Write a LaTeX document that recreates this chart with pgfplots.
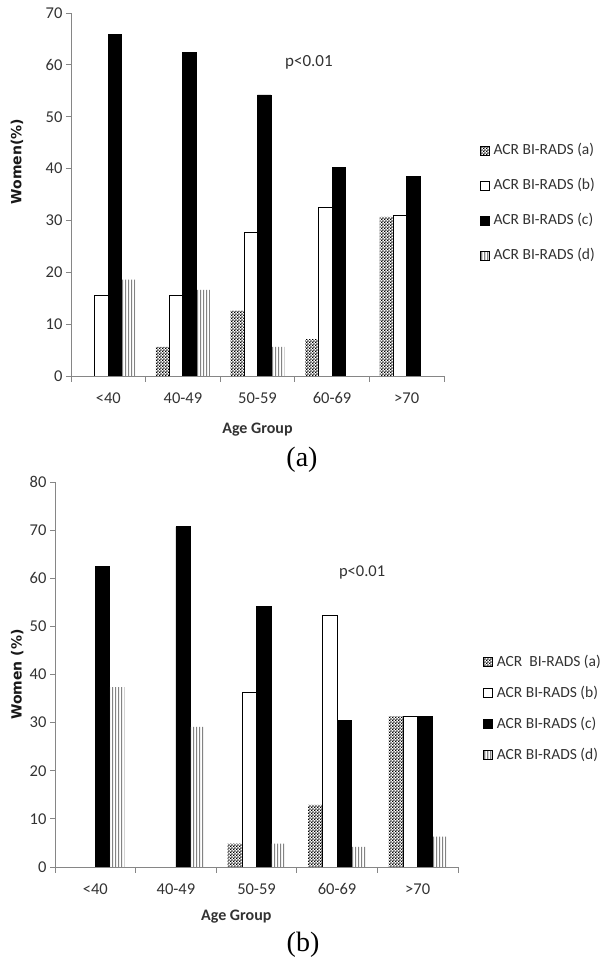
\documentclass[border=0pt]{standalone}
\usepackage{pgfplots}
\pgfplotsset{compat=1.18}
\usepackage{fontspec}
\setmainfont{Carlito}
\newfontfamily\dejavu{DejaVu Sans}
\newfontfamily\timesf{Liberation Serif}
\usetikzlibrary{patterns}
\definecolor{axgray}{RGB}{134,134,134}
\definecolor{txtgray}{RGB}{50,50,50}

\pgfdeclarepatternformonly{checker}{\pgfqpoint{0pt}{0pt}}{\pgfqpoint{3.2pt}{3.2pt}}{\pgfqpoint{3.2pt}{3.2pt}}{%
  \pgfpathrectangle{\pgfqpoint{0pt}{0pt}}{\pgfqpoint{1.6pt}{1.6pt}}%
  \pgfpathrectangle{\pgfqpoint{1.6pt}{1.6pt}}{\pgfqpoint{1.6pt}{1.6pt}}%
  \pgfusepath{fill}}
\pgfdeclarepatternformonly{vdense}{\pgfqpoint{0pt}{0pt}}{\pgfqpoint{2.6pt}{1pt}}{\pgfqpoint{2.6pt}{1pt}}{%
  \pgfpathrectangle{\pgfqpoint{0pt}{0pt}}{\pgfqpoint{1.4pt}{1pt}}%
  \pgfusepath{fill}}

\pgfplotsset{
  barchart/.style={
    scale only axis,
    ybar=0pt,
    axis x line*=bottom, axis y line*=left,
    axis line style={axgray, line width=0.9pt},
    xmin=-0.5, xmax=4.5,
    ymin=0,
    xtick={0,...,4},
    xticklabels={{<40},{40-49},{50-59},{60-69},{>70}},
    minor xtick={-0.5,0.5,...,4.5},
    major x tick style={draw=none},
    minor x tick style={axgray, line width=0.9pt},
    minor tick length=6pt,
    major tick length=5pt,
    tick align=outside,
    tick pos=left,
    ytick style={axgray, line width=0.9pt},
    ticklabel style={font=\fontsize{16.5}{18}\selectfont, text=txtgray},
    xticklabel style={yshift=-8pt},
    /pgf/number format/assume math mode=true,
    legend cell align=left,
    legend style={draw=none, fill=none, anchor=north west,
      font=\fontsize{15.5}{18}\selectfont, text=txtgray,
      row sep=19pt, inner sep=0pt,
      nodes={inner ysep=1pt, inner xsep=4pt, text height=11pt, text depth=3pt}},
    legend image code/.code={\draw[#1, line width=0.6pt] (0pt,-4.5pt) rectangle (9pt,4.5pt);},
    xlabel style={font=\bfseries\fontsize{16}{18}\selectfont, text=txtgray, anchor=center},
    ylabel style={font=\dejavu\bfseries\fontsize{14}{16}\selectfont, text=black!90, anchor=center},
  },
  sA/.style={pattern=checker, pattern color=black, draw=none},
  sB/.style={fill=white, draw=black, line width=0.8pt},
  sC/.style={fill=black, draw=black, line width=0.8pt},
  sD/.style={pattern=vdense, pattern color=black!75, draw=none},
}

\begin{document}
\begin{tikzpicture}
\path[use as bounding box] (0,0) rectangle (604pt,967pt);

% ---------- (a) ----------  (bars of value 0 are left out)
\begin{axis}[barchart,
  at={(71pt,591pt)}, anchor=south west,
  width=373pt, height=363pt,
  ymax=70, ytick={0,10,...,70},
  bar width=13.5pt,
  xlabel={Age Group},
  xlabel style={at={(axis description cs:0.5,-0.149)}},
  ylabel={Women(\%)},
  ylabel style={at={(axis description cs:-0.145,0.59)}},
  legend style={at={(axis description cs:1.096,0.643)}},
]
\addplot[sA] coordinates {(1,5.6) (2,12.6) (3,7.1) (4,30.7)};
\addplot[sB] coordinates {(0,15.5) (1,15.5) (2,27.7) (3,32.5) (4,30.9)};
\addplot[sC] coordinates {(0,65.8) (1,62.4) (2,54.2) (3,40.3) (4,38.4)};
\addplot[sD] coordinates {(0,18.6) (1,16.6) (2,5.6)};
\legend{ACR BI-RADS (a),ACR BI-RADS (b),ACR BI-RADS (c),ACR BI-RADS (d)}
\node[font=\fontsize{17}{19}\selectfont, text=txtgray] at (axis description cs:0.638,0.865) {p<0.01};
\end{axis}

% ---------- (b) ----------
\begin{axis}[barchart,
  at={(55pt,100pt)}, anchor=south west,
  width=403pt, height=385pt,
  ymax=80, ytick={0,10,...,80},
  bar width=14.5pt,
  xlabel={Age Group},
  xlabel style={at={(axis description cs:0.45,-0.13)}},
  ylabel={Women (\%)},
  ylabel style={at={(axis description cs:-0.094,0.5)}},
  legend style={at={(axis description cs:1.062,0.553)}, row sep=15pt},
]
\addplot[sA] coordinates {(2,4.85) (3,12.9) (4,31.3)};
\addplot[sB] coordinates {(2,36.2) (3,52.2) (4,31.3)};
\addplot[sC] coordinates {(0,62.5) (1,70.7) (2,54.2) (3,30.5) (4,31.3)};
\addplot[sD] coordinates {(0,37.4) (1,29.1) (2,4.85) (3,4.2) (4,6.3)};
\legend{ACR\ \ BI-RADS (a),ACR BI-RADS (b),ACR BI-RADS (c),ACR BI-RADS (d)}
\node[font=\fontsize{16.5}{19}\selectfont, text=txtgray] at (axis description cs:0.762,0.764) {p<0.01};
\end{axis}

\node[font=\timesf\fontsize{28}{30}\selectfont] at (302pt,507pt) {(a)};
\node[font=\timesf\fontsize{28}{30}\selectfont] at (303pt,22pt) {(b)};
\end{tikzpicture}
\end{document}
